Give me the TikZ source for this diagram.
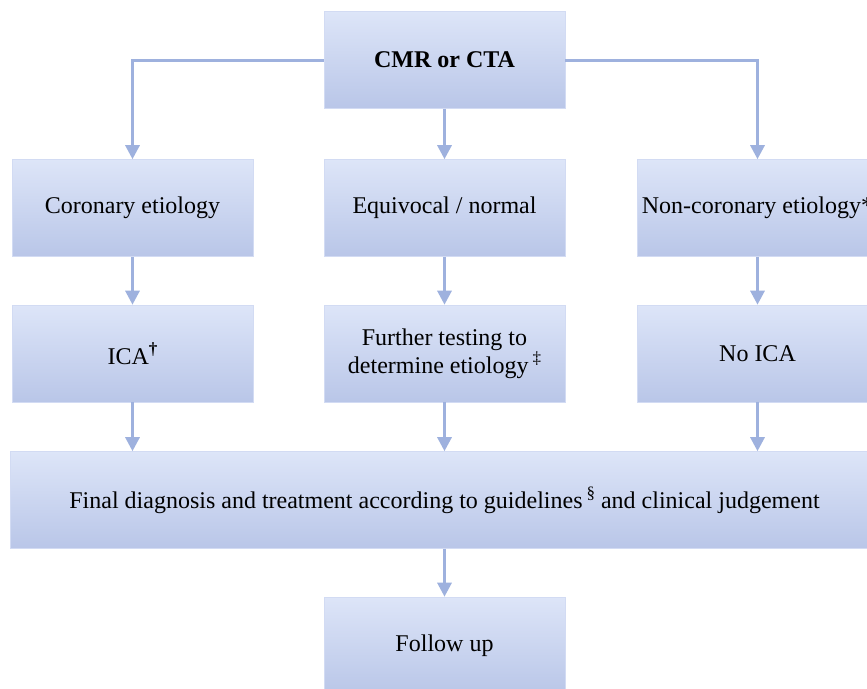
\documentclass[tikz,border=0pt]{standalone}
\usepackage{fontspec}
\setmainfont{Liberation Serif}
\usetikzlibrary{arrows.meta}
\definecolor{boxtop}{RGB}{221,229,248}
\definecolor{boxbot}{RGB}{185,198,232}
\definecolor{boxedge}{RGB}{210,219,243}
\definecolor{arrowc}{RGB}{158,177,222}
\newcommand{\supmark}[1]{\raisebox{0.42em}{\fontsize{17}{17}\selectfont #1}}
\tikzset{
  fbox/.style={rectangle, top color=boxtop, bottom color=boxbot, draw=boxedge, line width=0.6pt,
    minimum width=241pt, minimum height=97pt, inner sep=0pt, align=center,
    font=\fontsize{24}{27}\selectfont},
  conn/.style={draw=arrowc, line width=3pt, -{Triangle[width=14pt,length=14pt]}}
}
\begin{document}
\begin{tikzpicture}[x=1pt,y=-1pt]
\clip (0,0) rectangle (867,688);
\useasboundingbox (0,0) rectangle (867,688);
\fill[white] (0,0) rectangle (867,688);
\node[fbox, font=\fontsize{24}{27}\selectfont\bfseries] (cmr) at (444.5,60) {CMR or CTA};
\node[fbox] (cor) at (132.5,208) {Coronary etiology};
\node[fbox] (equ) at (444.5,208) {Equivocal / normal};
\node[fbox] (non) at (757.5,208) {Non-coronary etiology*};
\node[fbox] (ica) at (132.5,353.5) {ICA\supmark{\textbf{†}}};
\node[fbox] (fur) at (444.5,353.5) {Further testing to\\determine etiology\,\supmark{‡}};
\node[fbox] (noica) at (757.5,353.5) {No ICA};
\node[fbox, minimum width=869pt] (fin) at (444.5,500) {Final diagnosis and treatment according to guidelines\,\supmark{§} and clinical judgement};
\node[fbox] (fol) at (444.5,645.5) {Follow up};
\draw[conn] (cmr.west) -| (cor.north);
\draw[conn] (cmr.east) -| (non.north);
\draw[conn] (cmr.south) -- (equ.north);
\draw[conn] (cor.south) -- (ica.north);
\draw[conn] (equ.south) -- (fur.north);
\draw[conn] (non.south) -- (noica.north);
\draw[conn] (ica.south) -- (ica.south |- fin.north);
\draw[conn] (fur.south) -- (fur.south |- fin.north);
\draw[conn] (noica.south) -- (noica.south |- fin.north);
\draw[conn] (fin.south) -- (fol.north);
\end{tikzpicture}
\end{document}
